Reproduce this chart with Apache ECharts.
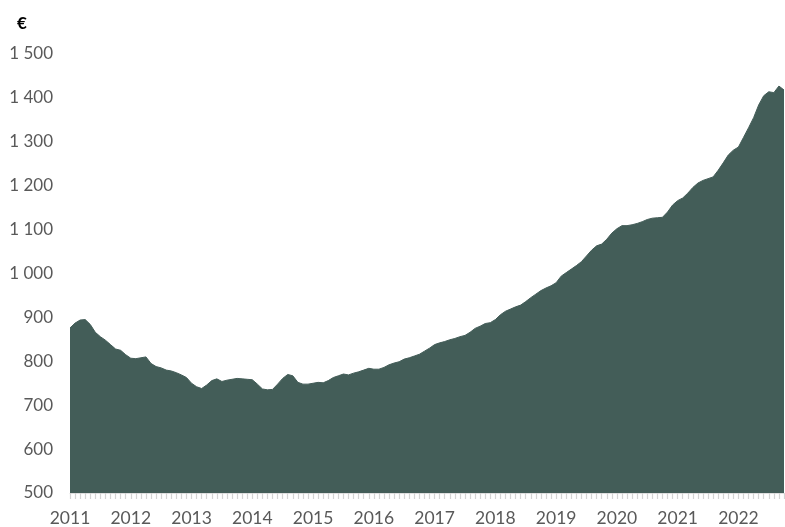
<!DOCTYPE html>
<html>
<head>
<meta charset="utf-8">
<script src="https://cdn.jsdelivr.net/npm/echarts@6/dist/echarts.min.js"></script>
<style>
  html, body { margin: 0; padding: 0; background: #ffffff; }
  #chart { width: 785px; height: 527px; }
</style>
</head>
<body>
<div id="chart"></div>
<script>
// Monthly average values (€), January 2011 – October 2022
const years = [2011, 2012, 2013, 2014, 2015, 2016, 2017, 2018, 2019, 2020, 2021, 2022];
const v2011 = [876, 887, 894, 895, 884, 866, 856, 848, 838, 828, 825, 815];
const v2012 = [807, 806, 808, 810, 795, 788, 785, 780, 778, 774, 769, 763];
const v2013 = [750, 742, 738, 746, 756, 760, 754, 757, 759, 761, 760, 759];
const v2014 = [758, 748, 737, 735, 736, 748, 761, 770, 767, 752, 748, 748];
const v2015 = [750, 752, 751, 756, 763, 767, 771, 769, 773, 776, 780, 784];
const v2016 = [782, 782, 786, 792, 796, 799, 805, 808, 812, 816, 823, 830];
const v2017 = [838, 842, 845, 849, 852, 856, 859, 866, 875, 880, 886, 888];
const v2018 = [895, 906, 914, 919, 924, 928, 936, 945, 953, 961, 967, 972];
const v2019 = [979, 994, 1002, 1010, 1018, 1027, 1040, 1053, 1063, 1067, 1078, 1092];
const v2020 = [1102, 1109, 1109, 1111, 1114, 1118, 1123, 1126, 1127, 1128, 1140, 1156];
const v2021 = [1166, 1172, 1183, 1196, 1206, 1212, 1216, 1220, 1235, 1252, 1270, 1281];
const v2022 = [1288, 1310, 1332, 1355, 1384, 1405, 1414, 1412, 1427, 1418];

const yearly = [v2011, v2012, v2013, v2014, v2015, v2016, v2017, v2018, v2019, v2020, v2021, v2022];
const months = [];
const values = [];
yearly.forEach((arr, i) => {
  arr.forEach((v, m) => {
    months.push(years[i] + '-' + String(m + 1).padStart(2, '0'));
    values.push(v);
  });
});

const font = 'Lato, "Open Sans", sans-serif';
const chart = echarts.init(document.getElementById('chart'), null, { renderer: 'canvas' });
chart.setOption({
  animation: false,
  backgroundColor: '#ffffff',
  grid: { left: 70, right: 1, top: 54, bottom: 34, containLabel: false },
  graphic: [{
    type: 'text', left: 17, top: 15,
    style: { text: '€', font: 'bold 17px ' + font, fill: '#000000' }
  }],
  xAxis: {
    type: 'category',
    data: months,
    boundaryGap: false,
    axisLine: { show: true, lineStyle: { color: '#e0e0e0', width: 1 } },
    axisTick: { show: true, interval: 0, length: 6, lineStyle: { color: '#d4d4d4', width: 1.2 } },
    axisLabel: {
      interval: (idx) => idx % 12 === 0,
      formatter: (val) => val.slice(0, 4),
      color: '#595959', fontFamily: font, fontSize: 17.5, margin: 16
    },
    splitLine: { show: false }
  },
  yAxis: {
    type: 'value',
    min: 500, max: 1500, interval: 100,
    axisLine: { show: false },
    axisTick: { show: false },
    splitLine: { show: false },
    axisLabel: {
      color: '#595959', fontFamily: font, fontSize: 17, margin: 17,
      formatter: (v) => String(v).replace(/\B(?=(\d{3})+(?!\d))/g, ' ')
    }
  },
  series: [{
    type: 'line',
    data: values,
    symbol: 'none',
    smooth: false,
    lineStyle: { width: 1, color: '#435d58' },
    areaStyle: { color: '#435d58', opacity: 1 }
  }]
});
</script>
</body>
</html>
